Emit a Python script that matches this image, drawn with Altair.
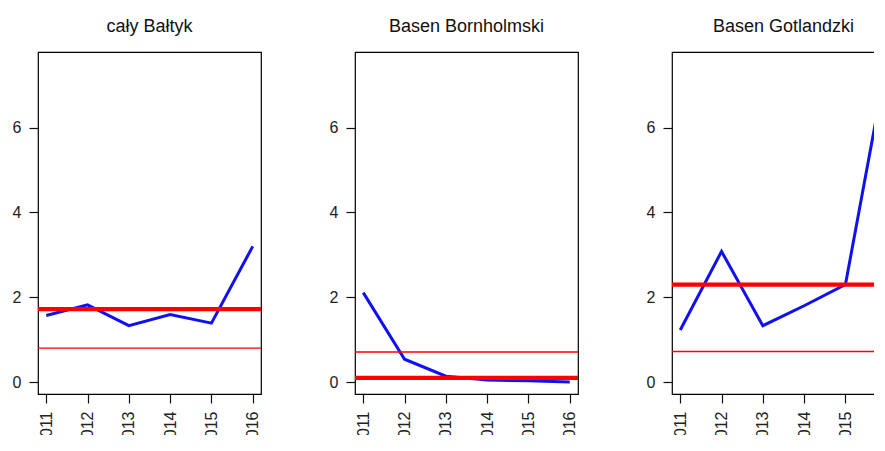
import altair as alt
import pandas as pd

years = [2011, 2012, 2013, 2014, 2015, 2016]
panel_titles = ["cały Bałtyk", "Basen Bornholmski", "Basen Gotlandzki"]
series_values = [
    [1.57, 1.82, 1.33, 1.59, 1.39, 3.20],
    [2.11, 0.54, 0.14, 0.05, 0.03, 0.00],
    [1.23, 3.08, 1.33, 1.80, 2.30, 7.55],
]
thick_red = [1.72, 0.10, 2.30]
thin_red = [0.80, 0.71, 0.72]
y_ticks = [0, 2, 4, 6]

FONT = "Liberation Sans"

charts = []
for i, name in enumerate(panel_titles):
    df = pd.DataFrame({"year": years, "value": series_values[i]})
    x = alt.X("year:Q", scale=alt.Scale(domain=[2010.8, 2016.2], nice=False, zero=False),
              axis=alt.Axis(values=years, format="d", labelAngle=270, title=None))
    y = alt.Y("value:Q", scale=alt.Scale(domain=[-0.28, 7.78], nice=False, zero=False),
              axis=alt.Axis(values=y_ticks, title=None))
    line = alt.Chart(df).mark_line(color="#1010F0", strokeWidth=3, clip=True).encode(x=x, y=y)
    rdf = pd.DataFrame({"v": [thin_red[i], thick_red[i]], "w": [1.4, 4.2]})
    rules = alt.Chart(rdf).mark_rule(color="#FF0000").encode(
        y=alt.Y("v:Q"), strokeWidth=alt.StrokeWidth("w:Q", scale=None))
    chart = alt.layer(line, rules).properties(
        width=223, height=342,
        title=alt.TitleParams(name, fontSize=18, font=FONT, fontWeight="normal",
                              color="#111111", offset=16, anchor="middle"))
    charts.append(chart)

chart = alt.hconcat(*charts, spacing=64).properties(
    padding={"left": 3, "top": 9, "right": -24, "bottom": -13}
).configure_view(stroke="black", strokeWidth=1.2).configure_axis(
    domain=False, grid=False, tickColor="#111111", tickSize=9, tickWidth=1.2,
    labelPadding=8, labelFont=FONT, labelFontSize=16, labelColor="#222222"
).configure_concat(spacing=64)

chart.save("out.html", embed_options={"renderer": "svg", "actions": False})
